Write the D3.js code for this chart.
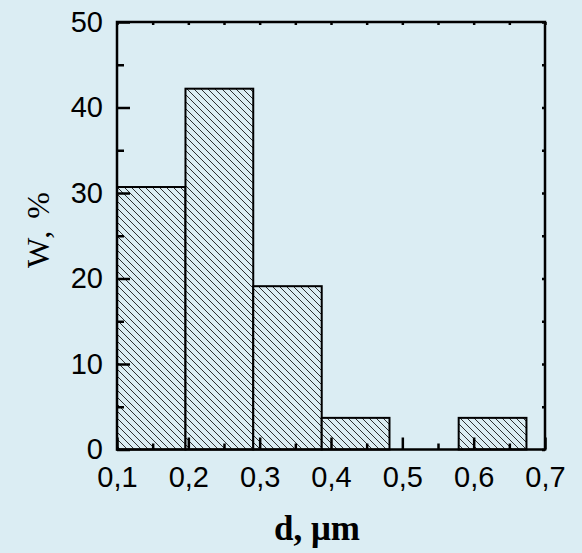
<!DOCTYPE html>
<html>
<head>
<meta charset="utf-8">
<script src="https://cdn.jsdelivr.net/npm/d3@7"></script>
<style>
  body { margin: 0; background: #dbedf3; }
  svg { display: block; }
</style>
</head>
<body>
<div id="chart"></div>
<script>
// datos del histograma
const binStart = [0.1, 0.196, 0.291, 0.387, 0.579];
const binEnd   = [0.196, 0.291, 0.387, 0.482, 0.674];
const values   = [30.7, 42.2, 19.1, 3.7, 3.7];

const xMajor = [0.1, 0.2, 0.3, 0.4, 0.5, 0.6, 0.7];
const xMinor = [0.15, 0.25, 0.35, 0.45, 0.55, 0.65];
const yMajor = [0, 10, 20, 30, 40, 50];
const yMinor = [5, 15, 25, 35, 45];

const width = 582, height = 553;
const margin = { top: 22, right: 37, bottom: 103.5, left: 117 };
const bg = "#dbedf3";

const svg = d3.select("#chart").append("svg")
    .attr("width", width)
    .attr("height", height);

svg.append("rect").attr("width", width).attr("height", height).attr("fill", bg);

// patron de rayado
const hs = 7;
const pat = svg.append("defs").append("pattern")
    .attr("id", "hatch")
    .attr("patternUnits", "userSpaceOnUse")
    .attr("width", hs)
    .attr("height", hs);
pat.append("rect").attr("width", hs).attr("height", hs).attr("fill", bg);
pat.append("path")
    .attr("d", `M0,0 L${hs},${hs} M-1,${hs - 1} L1,${hs + 1} M${hs - 1},-1 L${hs + 1},1`)
    .attr("stroke", "#1a1a1a")
    .attr("stroke-width", 0.9);

const x = d3.scaleLinear().domain([0.1, 0.7]).range([margin.left, width - margin.right]);
const y = d3.scaleLinear().domain([0, 50]).range([height - margin.bottom, margin.top]);

const fmt = d => d3.format(".1f")(d).replace(".", ",");

// barras
svg.selectAll("rect.bar")
    .data(values)
    .enter().append("rect")
    .attr("class", "bar")
    .attr("x", (d, i) => x(binStart[i]))
    .attr("width", (d, i) => x(binEnd[i]) - x(binStart[i]))
    .attr("y", d => y(d))
    .attr("height", d => y(0) - y(d))
    .attr("fill", "url(#hatch)")
    .attr("stroke", "#000")
    .attr("stroke-width", 2);

function styleAxis(g) {
    g.select(".domain").remove();
    g.selectAll(".tick line").attr("stroke", "#000").attr("stroke-width", 2.5);
    g.selectAll(".tick text")
        .attr("fill", "#000")
        .style("font-family", "'Liberation Sans', Arial, sans-serif")
        .style("font-size", "29px");
}

// eje inferior
svg.append("g")
    .attr("transform", `translate(0,${y(0)})`)
    .call(d3.axisBottom(x).tickValues(xMajor).tickFormat(fmt).tickSize(-12).tickPadding(17))
    .call(styleAxis);
svg.append("g")
    .attr("transform", `translate(0,${y(0)})`)
    .call(d3.axisBottom(x).tickValues(xMinor).tickFormat("").tickSize(-6))
    .call(styleAxis);

// eje izquierdo
svg.append("g")
    .attr("transform", `translate(${x(0.1)},0)`)
    .call(d3.axisLeft(y).tickValues(yMajor).tickSize(-13).tickPadding(14))
    .call(styleAxis);
svg.append("g")
    .attr("transform", `translate(${x(0.1)},0)`)
    .call(d3.axisLeft(y).tickValues(yMinor).tickFormat("").tickSize(-7))
    .call(styleAxis);

// ejes superior y derecho (marcas pequenas)
svg.append("g")
    .attr("transform", `translate(0,${y(50)})`)
    .call(d3.axisTop(x).tickValues(xMajor.concat(xMinor)).tickFormat("").tickSize(-3))
    .call(styleAxis);
svg.append("g")
    .attr("transform", `translate(${x(0.7)},0)`)
    .call(d3.axisRight(y).tickValues(yMajor.concat(yMinor)).tickFormat("").tickSize(-3))
    .call(styleAxis);

// marco
svg.append("rect")
    .attr("x", x(0.1))
    .attr("y", y(50))
    .attr("width", x(0.7) - x(0.1))
    .attr("height", y(0) - y(50))
    .attr("fill", "none")
    .attr("stroke", "#000")
    .attr("stroke-width", 2.5);

// titulos de ejes
svg.append("text")
    .attr("x", 317)
    .attr("y", 540)
    .attr("text-anchor", "middle")
    .attr("font-family", "'Liberation Serif', 'Times New Roman', serif")
    .attr("font-weight", "bold")
    .attr("font-size", 35)
    .attr("fill", "#000")
    .text("d, μm");

svg.append("text")
    .attr("transform", "translate(49,229) rotate(-90)")
    .attr("text-anchor", "middle")
    .attr("font-family", "'Liberation Serif', 'Times New Roman', serif")
    .attr("font-size", 32)
    .attr("letter-spacing", 2)
    .attr("fill", "#000")
    .text("W, %");
</script>
</body>
</html>
